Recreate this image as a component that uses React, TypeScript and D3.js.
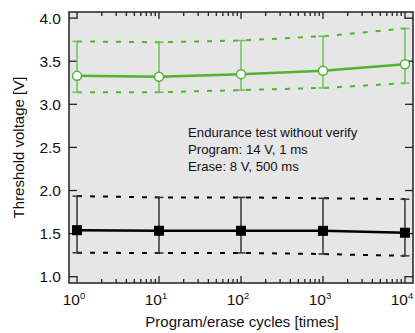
import { useEffect, useRef } from "react";
import * as d3 from "d3";

const cycles = [1, 10, 100, 1000, 10000];
const greenMean = [3.33, 3.32, 3.35, 3.39, 3.465];
const greenHigh = [3.73, 3.72, 3.74, 3.79, 3.88];
const greenLow = [3.14, 3.14, 3.165, 3.19, 3.245];
const blackMean = [1.54, 1.533, 1.533, 1.532, 1.51];
const blackHigh = [1.935, 1.92, 1.92, 1.91, 1.9];
const blackLow = [1.278, 1.275, 1.276, 1.263, 1.242];
const yTicks = [1.0, 1.5, 2.0, 2.5, 3.0, 3.5, 4.0];
const xExponents = [0, 1, 2, 3, 4];
const notes = ["Endurance test without verify", "Program: 14 V, 1 ms", "Erase: 8 V, 500 ms"];

const GREEN = "#4db52f";
const FONT = "Liberation Sans, Arial, sans-serif";

export default function App() {
  const ref = useRef<SVGSVGElement | null>(null);
  const width = 415;
  const height = 333;

  useEffect(() => {
    if (!ref.current) return;
    const svg = d3.select(ref.current);
    svg.selectAll("*").remove();

    const margin = { top: 12, right: 2, bottom: 50, left: 69 };
    const x0 = margin.left;
    const x1 = width - margin.right;
    const y0 = margin.top;
    const y1 = height - margin.bottom;

    const x = d3.scaleLog().domain([Math.pow(10, -0.098), Math.pow(10, 4.098)]).range([x0, x1]);
    const y = d3.scaleLinear().domain([0.927, 4.071]).range([y1, y0]);

    // background
    svg.append("rect")
      .attr("x", x0).attr("y", y0)
      .attr("width", x1 - x0).attr("height", y1 - y0)
      .attr("fill", "#e6e6e6");

    // ticks (inward, both sides)
    const axisG = svg.append("g").attr("stroke", "#222").attr("stroke-width", 1.3);
    yTicks.forEach((t) => {
      axisG.append("line").attr("x1", x0).attr("x2", x0 + 8).attr("y1", y(t)).attr("y2", y(t));
      axisG.append("line").attr("x1", x1).attr("x2", x1 - 8).attr("y1", y(t)).attr("y2", y(t));
    });
    for (let e = 0; e <= 4; e++) {
      const xm = x(Math.pow(10, e));
      axisG.append("line").attr("x1", xm).attr("x2", xm).attr("y1", y1).attr("y2", y1 - 7);
      axisG.append("line").attr("x1", xm).attr("x2", xm).attr("y1", y0).attr("y2", y0 + 7);
      if (e < 4) {
        for (let k = 2; k <= 9; k++) {
          const xs = x(k * Math.pow(10, e));
          axisG.append("line").attr("x1", xs).attr("x2", xs).attr("y1", y1).attr("y2", y1 - 4);
          axisG.append("line").attr("x1", xs).attr("x2", xs).attr("y1", y0).attr("y2", y0 + 4);
        }
      }
    }

    // frame
    svg.append("rect")
      .attr("x", x0).attr("y", y0)
      .attr("width", x1 - x0).attr("height", y1 - y0)
      .attr("fill", "none").attr("stroke", "#222").attr("stroke-width", 1.5);

    // tick labels
    svg.append("g").selectAll("text").data(yTicks).join("text")
      .attr("x", x0 - 8).attr("y", (d) => y(d))
      .attr("dy", "0.36em").attr("text-anchor", "end")
      .attr("font-family", FONT).attr("font-size", 15.5).attr("fill", "#111")
      .text((d) => d.toFixed(1));

    const xl = svg.append("g").selectAll("text").data(xExponents).join("text")
      .attr("x", (d) => x(Math.pow(10, d)) - 3).attr("y", y1 + 22)
      .attr("text-anchor", "middle")
      .attr("font-family", FONT).attr("font-size", 15.5).attr("fill", "#111");
    xl.append("tspan").text("10");
    xl.append("tspan").attr("dy", -6).attr("font-size", 9.5).text((d) => String(d));

    // axis titles
    svg.append("text")
      .attr("x", 242).attr("y", height - 6)
      .attr("text-anchor", "middle")
      .attr("font-family", FONT).attr("font-size", 15).attr("fill", "#111")
      .text("Program/erase cycles [times]");
    svg.append("text")
      .attr("transform", `translate(24,${(y0 + y1) / 2}) rotate(-90)`)
      .attr("text-anchor", "middle")
      .attr("font-family", FONT).attr("font-size", 15).attr("fill", "#111")
      .text("Threshold voltage [V]");

    // series
    const drawSeries = (
      mean: number[], high: number[], low: number[],
      color: string, barColor: string, marker: "circle" | "square"
    ) => {
      const g = svg.append("g");
      const line = d3.line<number>().x((_, i) => x(cycles[i])).y((d) => y(d));
      [high, low].forEach((arr) => {
        g.append("path").attr("d", line(arr)).attr("fill", "none")
          .attr("stroke", color).attr("stroke-width", 2).attr("stroke-dasharray", "5,8");
      });
      cycles.forEach((c, i) => {
        const cx = x(c);
        g.append("line").attr("x1", cx).attr("x2", cx).attr("y1", y(high[i])).attr("y2", y(low[i]))
          .attr("stroke", barColor).attr("stroke-width", 1.5);
        [high[i], low[i]].forEach((v) => {
          g.append("line").attr("x1", cx - 4.5).attr("x2", cx + 4.5).attr("y1", y(v)).attr("y2", y(v))
            .attr("stroke", barColor).attr("stroke-width", 1.5);
        });
      });
      g.append("path").attr("d", line(mean)).attr("fill", "none")
        .attr("stroke", color).attr("stroke-width", 2.5);
      cycles.forEach((c, i) => {
        if (marker === "circle") {
          g.append("circle").attr("cx", x(c)).attr("cy", y(mean[i])).attr("r", 4.5)
            .attr("fill", "#fff").attr("stroke", color).attr("stroke-width", 1.5);
        } else {
          g.append("rect").attr("x", x(c) - 5).attr("y", y(mean[i]) - 5)
            .attr("width", 10).attr("height", 10).attr("fill", "#000");
        }
      });
    };

    drawSeries(greenMean, greenHigh, greenLow, GREEN, "#6cc454", "circle");
    drawSeries(blackMean, blackHigh, blackLow, "#000", "#333", "square");

    // annotation
    svg.append("g").selectAll("text").data(notes).join("text")
      .attr("x", 188).attr("y", (_, i) => 137 + i * 17)
      .attr("font-family", FONT).attr("font-size", 13.2).attr("fill", "#111")
      .text((d) => d);
  }, []);

  return (
    <svg
      ref={ref}
      width={width}
      height={height}
      style={{ position: "absolute", left: 0, top: 0, background: "#fff" }}
    />
  );
}
